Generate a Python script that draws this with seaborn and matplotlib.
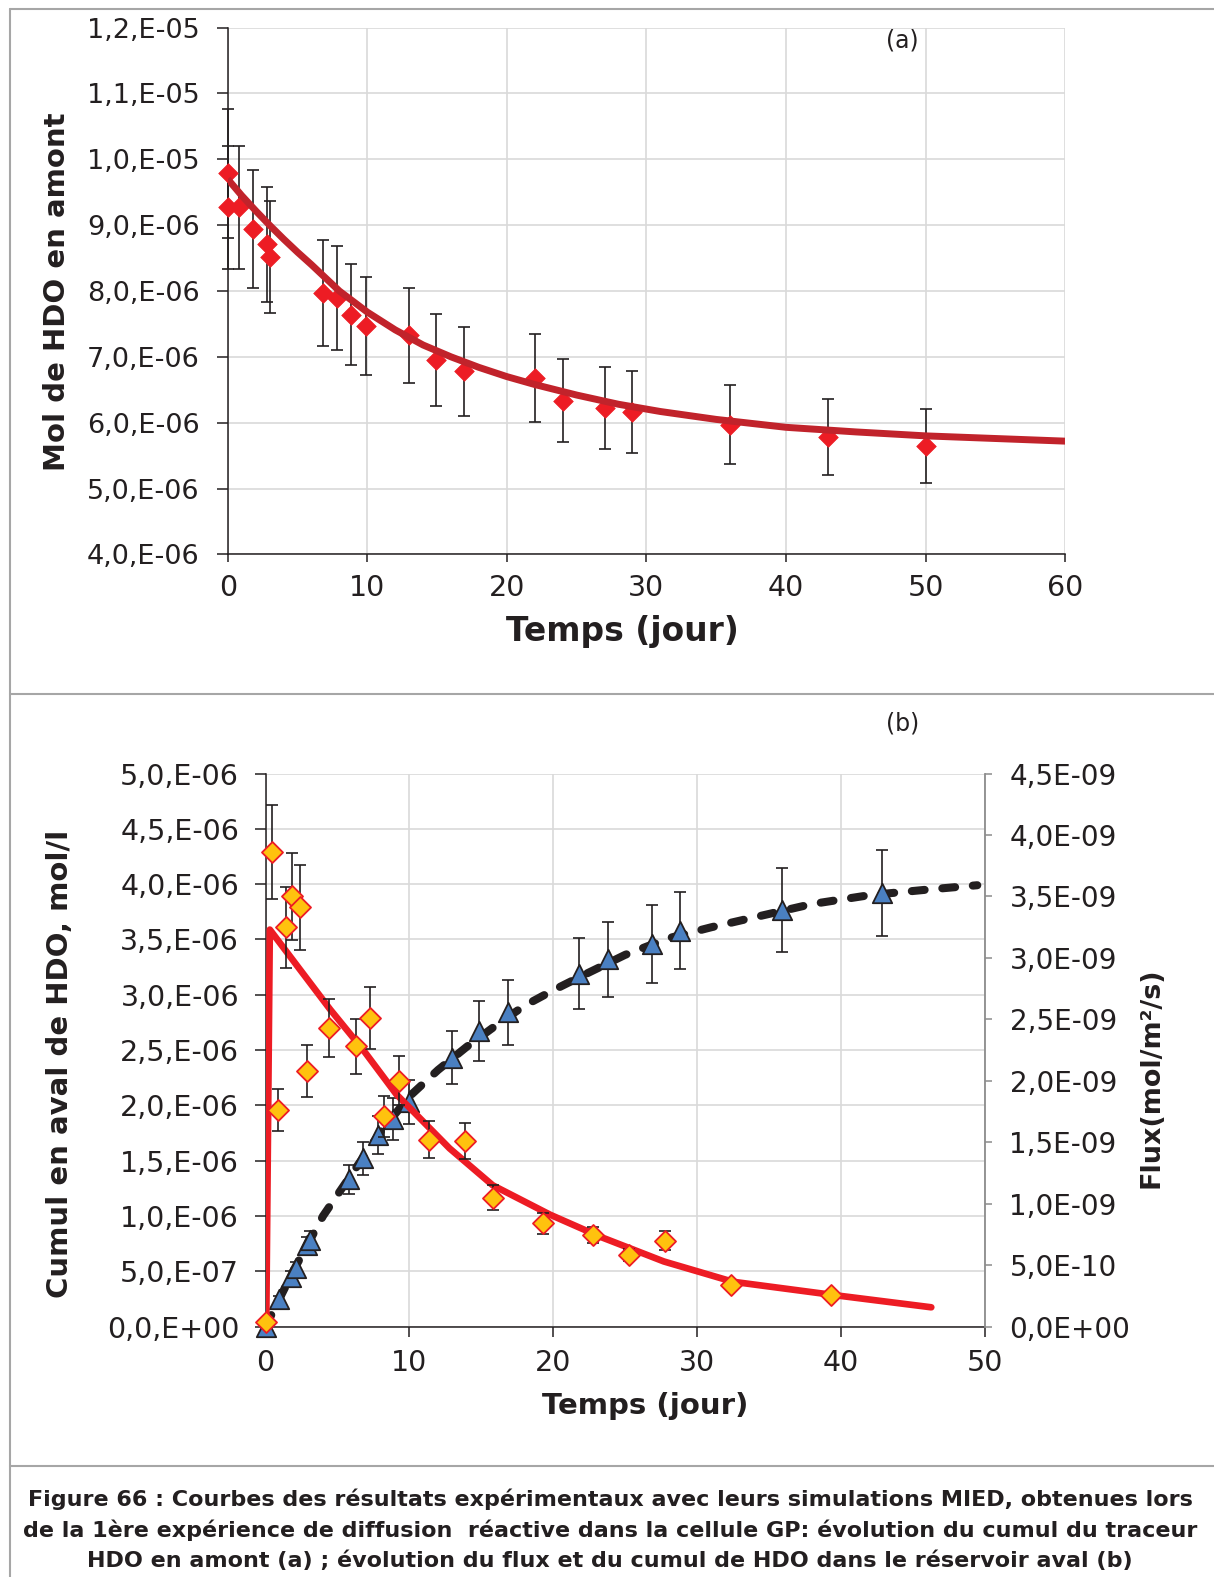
import numpy as np
import matplotlib
matplotlib.use("Agg")
import matplotlib.pyplot as plt
import seaborn as sns
from matplotlib.lines import Line2D

# ---------------- data : panel (a) ----------------
a_time = [0, 0, 0.8, 1.8, 2.8, 3.0, 6.8, 7.8, 8.8, 9.9, 13, 14.9, 16.9, 22, 24, 27, 29, 36, 43, 50]
a_mol = [9.79, 9.27, 9.27, 8.94, 8.71, 8.51, 7.97, 7.89, 7.64, 7.47, 7.33, 6.95, 6.78, 6.68,
         6.33, 6.22, 6.16, 5.97, 5.78, 5.65]            # x 1e-6
a_err = [0.98, 0.93, 0.93, 0.90, 0.87, 0.85, 0.80, 0.79, 0.77, 0.75, 0.72, 0.70, 0.68, 0.67,
         0.63, 0.62, 0.62, 0.60, 0.58, 0.56]            # x 1e-6
a_sim_time = [0, 1, 2, 3, 4, 5, 6, 8, 10, 12, 14, 16, 18, 20, 22, 25, 28, 31, 35, 40, 45, 50, 55, 60]
a_sim_mol = [9.70, 9.45, 9.22, 9.00, 8.79, 8.59, 8.40, 8.00, 7.68, 7.41, 7.18, 7.00, 6.84, 6.70,
             6.58, 6.42, 6.28, 6.17, 6.05, 5.93, 5.86, 5.80, 5.76, 5.72]   # x 1e-6
a_xticks = [0, 10, 20, 30, 40, 50, 60]
a_yticks = [4, 5, 6, 7, 8, 9, 10, 11, 12]               # x 1e-6
a_yticklabels = ["4,0,E-06", "5,0,E-06", "6,0,E-06", "7,0,E-06", "8,0,E-06",
                 "9,0,E-06", "1,0,E-05", "1,1,E-05", "1,2,E-05"]

# ---------------- data : panel (b) ----------------
b_cum_time = [0, 0.95, 1.8, 2.1, 2.9, 3.1, 5.8, 6.8, 7.8, 8.9, 10.0, 12.95, 14.85, 16.85,
              21.8, 23.8, 26.85, 28.85, 35.9, 42.85]
b_cum = [0, 0.25, 0.45, 0.53, 0.74, 0.78, 1.33, 1.52, 1.73, 1.88, 2.03, 2.43, 2.67, 2.84,
         3.19, 3.32, 3.46, 3.58, 3.77, 3.92]             # x 1e-6
b_cum_err = [0, 0.03, 0.05, 0.05, 0.07, 0.08, 0.13, 0.15, 0.17, 0.19, 0.20, 0.24, 0.27, 0.29,
             0.32, 0.34, 0.35, 0.35, 0.38, 0.39]         # x 1e-6
b_flux_time = [0.03, 0.43, 0.89, 1.43, 1.82, 2.4, 2.9, 4.43, 6.3, 7.3, 8.24, 9.3, 11.4, 13.85,
               15.8, 19.32, 22.8, 25.28, 27.78, 32.35, 39.3]
b_flux = [0.04, 3.86, 1.76, 3.25, 3.50, 3.41, 2.08, 2.43, 2.28, 2.51, 1.71, 2.00, 1.52, 1.51,
          1.05, 0.84, 0.745, 0.58, 0.70, 0.34, 0.26]     # x 1e-9
b_flux_err = [0, 0.38, 0.17, 0.33, 0.355, 0.344, 0.21, 0.237, 0.224, 0.25, 0.17, 0.20, 0.15, 0.15,
              0.10, 0.087, 0.068, 0.05, 0.075, 0.03, 0.025]   # x 1e-9
b_sim_cum_time = [0, 2, 4, 6, 8, 10, 12, 14, 16, 18, 20, 22, 25, 28, 31, 34, 38, 42, 46, 49.5]
b_sim_cum = [0, 0.52, 1.00, 1.38, 1.76, 2.08, 2.32, 2.53, 2.72, 2.90, 3.04, 3.17, 3.36, 3.51,
             3.61, 3.70, 3.82, 3.90, 3.95, 3.99]         # x 1e-6
b_sim_flux_time = [0.05, 0.3, 2.3, 4.5, 6.8, 9.1, 12.8, 15.8, 19.8, 23.3, 27.7, 32.5, 39.5, 46.3]
b_sim_flux = [0.0, 3.23, 2.92, 2.58, 2.25, 1.89, 1.45, 1.15, 0.91, 0.73, 0.53, 0.365, 0.257, 0.157]  # x 1e-9
b_xticks = [0, 10, 20, 30, 40, 50]
b_lyticks = [0, 0.5, 1.0, 1.5, 2.0, 2.5, 3.0, 3.5, 4.0, 4.5, 5.0]   # x 1e-6
b_lyticklabels = ["0,0,E+00", "5,0,E-07", "1,0,E-06", "1,5,E-06", "2,0,E-06", "2,5,E-06",
                  "3,0,E-06", "3,5,E-06", "4,0,E-06", "4,5,E-06", "5,0,E-06"]
b_ryticks = [0, 0.5, 1.0, 1.5, 2.0, 2.5, 3.0, 3.5, 4.0, 4.5]        # x 1e-9
b_ryticklabels = ["0,0E+00", "5,0E-10", "1,0E-09", "1,5E-09", "2,0E-09", "2,5E-09",
                  "3,0E-09", "3,5E-09", "4,0E-09", "4,5E-09"]

caption_lines = [
    "Figure 66 : Courbes des résultats expérimentaux avec leurs simulations MIED, obtenues lors",
    "de la 1ère expérience de diffusion  réactive dans la cellule GP: évolution du cumul du traceur",
    "HDO en amont (a) ; évolution du flux et du cumul de HDO dans le réservoir aval (b)",
]

# ---------------- style ----------------
sns.set_theme(style="white")
plt.rcParams['font.family'] = ['DejaVu Sans']
TXT = '#231F20'
GRID = '#D9D9D9'
RED = '#ED1C24'
DARKRED = '#C1232B'
GOLD = '#FFC20E'
BLUE = '#4A80C2'
BORDER = '#A6A6A6'

W, H = 1214, 1577
fig = plt.figure(figsize=(W / 100, H / 100), dpi=100)
fig.patch.set_facecolor('white')


def px_rect(l, t, r, b):
    return [l / W, 1 - b / H, (r - l) / W, (b - t) / H]


def style_axis(ax):
    ax.set_facecolor('none')
    for s in ['top', 'right']:
        ax.spines[s].set_visible(False)
    for s in ['left', 'bottom']:
        ax.spines[s].set_color(TXT)
        ax.spines[s].set_linewidth(1.1)
    ax.grid(True, color=GRID, linewidth=1.2)
    ax.set_axisbelow(True)


# ================= panel (a) =================
ax_a = fig.add_axes(px_rect(227.7, 27.6, 1065.1, 554.4))
style_axis(ax_a)
am = np.array(a_mol) * 1e-6
ax_a.errorbar(a_time, am, yerr=np.array(a_err) * 1e-6, fmt='none', ecolor=TXT,
              elinewidth=1.2, capsize=4.5, capthick=1.2, zorder=2, clip_on=False)
sns.scatterplot(x=a_time, y=am, marker='D', s=100, color=RED, edgecolor=RED, linewidth=0.5,
                ax=ax_a, zorder=3, clip_on=False, legend=False)
sns.lineplot(x=a_sim_time, y=np.array(a_sim_mol) * 1e-6, color=DARKRED, linewidth=5,
             ax=ax_a, zorder=4, sort=False, estimator=None, legend=False)
ax_a.lines[-1].set_solid_capstyle('butt')
ax_a.set_xlim(0, 60)
ax_a.set_ylim(4e-6, 1.2e-5)
ax_a.set_xticks(a_xticks)
ax_a.set_xticklabels([str(v) for v in a_xticks])
ax_a.set_yticks(np.array(a_yticks) * 1e-6)
ax_a.set_yticklabels(a_yticklabels)
ax_a.tick_params(axis='y', direction='out', length=8, width=1.1, color=TXT, pad=12,
                 labelsize=19.5, labelcolor=TXT, left=True)
ax_a.tick_params(axis='x', direction='out', length=6, width=1.1, color=TXT, pad=8,
                 labelsize=20.5, labelcolor=TXT, bottom=True)
ax_a.set_xlabel('')
ax_a.set_ylabel('')

# ================= panel (b) =================
ax_b = fig.add_axes(px_rect(265.5, 773.5, 984.5, 1326.6))
style_axis(ax_b)
ax_r = ax_b.twinx()
ax_r.set_facecolor('none')
for s in ['top', 'left', 'bottom']:
    ax_r.spines[s].set_visible(False)
ax_r.spines['right'].set_color('#8C8C8C')
ax_r.spines['right'].set_linewidth(1.3)

# cumul (left axis)
sns.lineplot(x=b_sim_cum_time, y=np.array(b_sim_cum) * 1e-6, color=TXT, linewidth=5.8,
             ax=ax_b, zorder=2, sort=False, estimator=None, legend=False)
dash_line = ax_b.lines[-1]
dash_line.set_dashes([1.6, 2.2])
dash_line.set_dash_capstyle('round')
bc = np.array(b_cum) * 1e-6
ax_b.errorbar(b_cum_time, bc, yerr=np.array(b_cum_err) * 1e-6, fmt='none', ecolor=TXT,
              elinewidth=1.2, capsize=4.5, capthick=1.2, zorder=3, clip_on=False)
sns.scatterplot(x=b_cum_time, y=bc, marker='^', s=195, color=BLUE, edgecolor=TXT,
                linewidth=1.3, ax=ax_b, zorder=4, clip_on=False, legend=False)
ax_b.set_xlim(0, 50)
ax_b.set_ylim(0, 5e-6)
ax_b.set_xticks(b_xticks)
ax_b.set_xticklabels([str(v) for v in b_xticks])
ax_b.set_yticks(np.array(b_lyticks) * 1e-6)
ax_b.set_yticklabels(b_lyticklabels)
ax_b.tick_params(axis='y', direction='out', length=8, width=1.1, color=TXT, pad=11,
                 labelsize=20.5, labelcolor=TXT, left=True)
ax_b.tick_params(axis='x', direction='out', length=7, width=1.1, color=TXT, pad=9,
                 labelsize=20.5, labelcolor=TXT, bottom=True)
ax_b.set_xlabel('')
ax_b.set_ylabel('')

# flux (right axis)
sns.lineplot(x=b_sim_flux_time, y=np.array(b_sim_flux) * 1e-9, color=RED, linewidth=4.8,
             ax=ax_r, zorder=2, sort=False, estimator=None, legend=False)
ax_r.lines[-1].set_solid_capstyle('round')
ax_r.lines[-1].set_solid_joinstyle('round')
bf = np.array(b_flux) * 1e-9
ax_r.errorbar(b_flux_time, bf, yerr=np.array(b_flux_err) * 1e-9, fmt='none', ecolor=TXT,
              elinewidth=1.2, capsize=4.5, capthick=1.2, zorder=3, clip_on=False)
sns.scatterplot(x=b_flux_time, y=bf, marker='D', s=115, color=GOLD, edgecolor=RED,
                linewidth=1.3, ax=ax_r, zorder=4, clip_on=False, legend=False)
ax_r.set_ylim(0, 4.5e-9)
ax_r.set_yticks(np.array(b_ryticks) * 1e-9)
ax_r.set_yticklabels(b_ryticklabels)
ax_r.tick_params(axis='y', direction='out', length=5, width=1.1, color='#8C8C8C', pad=13,
                 labelsize=20, labelcolor=TXT, right=True)
ax_r.set_ylabel('')
ax_r.set_xlim(0, 50)
ax_r.grid(False)

# ================= texts =================
def ftext(x, y, s, **kw):
    return fig.text(x / W, 1 - y / H, s, ha='center', va='center', color=TXT, **kw)

t_ay = ftext(57.3, 291.7, 'Mol de HDO en amont', rotation=90, fontsize=21, fontweight='bold')
t_ax = ftext(622.6, 631.6, 'Temps (jour)', fontsize=23, fontweight='bold')
t_by = ftext(60.3, 1064, 'Cumul en aval de HDO, mol/l', rotation=90, fontsize=21, fontweight='bold')
t_br = ftext(1151.6, 1078, 'Flux(mol/m²/s)', rotation=90, fontsize=20, fontweight='bold')
t_bx = ftext(644.7, 1406, 'Temps (jour)', fontsize=21, fontweight='bold')
ftext(902, 40.5, '(a)', fontsize=17)
ftext(903, 723, '(b)', fontsize=17)
cap_y = [1499, 1530, 1561]
caps = [ftext(610, y, s, fontsize=15, fontweight='bold') for s, y in zip(caption_lines, cap_y)]

fig.canvas.draw()
renderer = fig.canvas.get_renderer()


def fit(txt, target, dim):
    bb = txt.get_window_extent(renderer)
    cur = bb.width if dim == 'w' else bb.height
    txt.set_fontsize(txt.get_fontsize() * target / cur)


fit(t_ay, 358, 'h')
fit(t_ax, 233, 'w')
fit(t_by, 467, 'h')
fit(t_br, 221, 'h')
fit(t_bx, 206, 'w')
fit(caps[0], 1168, 'w')
for c in caps[1:]:
    c.set_fontsize(caps[0].get_fontsize())

# ================= frame lines =================
def fline(xs, ys):
    fig.add_artist(Line2D([x / W for x in xs], [1 - y / H for y in ys], color=BORDER,
                          linewidth=1.5, transform=fig.transFigure))

fline([9.7, 9.7], [8.8, H])
fline([9.7, W], [8.8, 8.8])
fline([9.7, W], [694, 694])
fline([9.7, W], [1466, 1466])

fig.savefig('out.png', dpi=100, facecolor='white')
